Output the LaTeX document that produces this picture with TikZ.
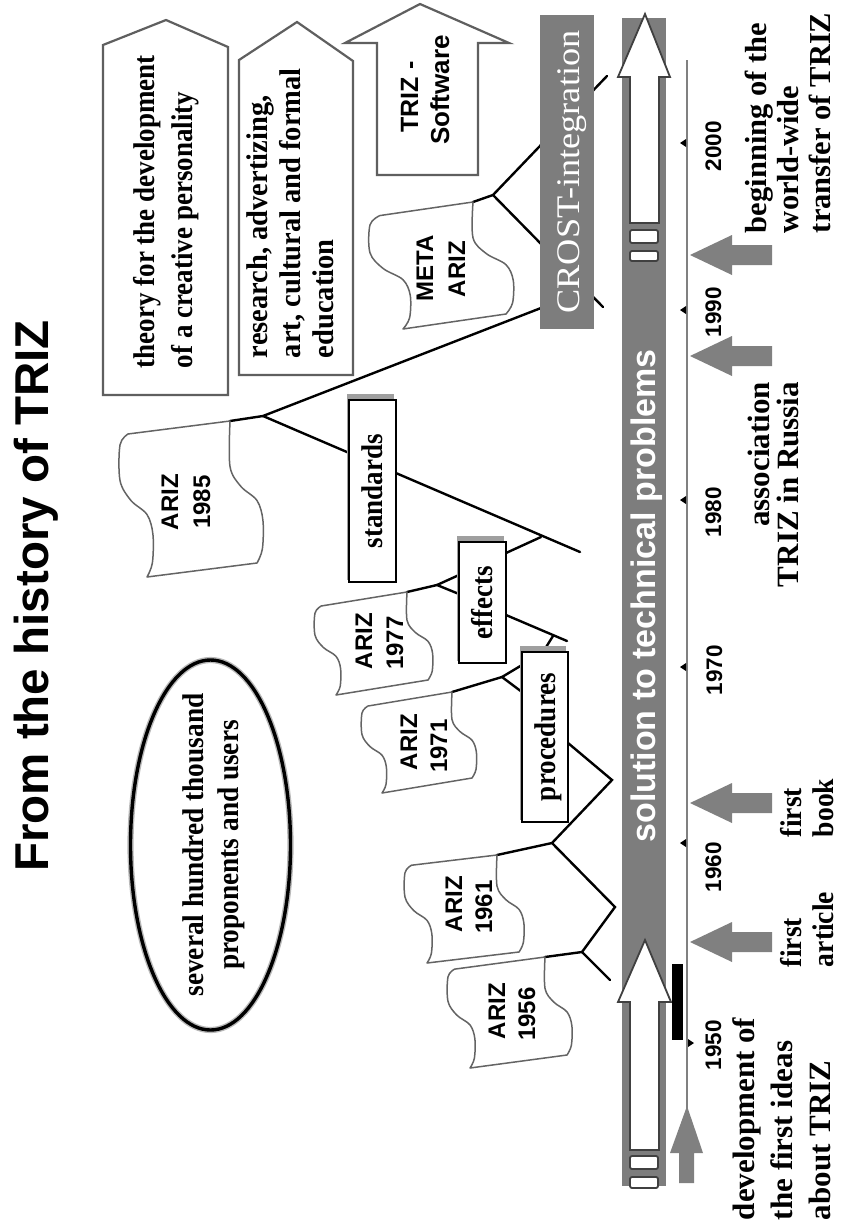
\documentclass[tikz,border=0pt]{standalone}
\usepackage{fontspec}
\setmainfont{Liberation Serif}
\newfontfamily\hvf{Liberation Sans}
\usepackage{graphicx}
\usetikzlibrary{calc}
\definecolor{bargray}{RGB}{125,125,125}
\definecolor{arrgray}{RGB}{128,128,128}
\definecolor{flaggray}{RGB}{100,100,100}
\definecolor{pentgray}{RGB}{95,95,95}
\newcommand\sq[2]{\scalebox{#1}[1]{#2}}
\newcommand\TB[1]{\fontsize{#1}{#1}\selectfont\bfseries}
\newcommand\TBL{\fontsize{30}{35}\selectfont\bfseries}
\newcommand\TR[1]{\fontsize{#1}{#1}\selectfont}
\newcommand\HB[1]{\hvf\fontsize{#1}{#1}\selectfont\bfseries}
\tikzset{
  tx/.style={rotate=90, inner sep=0pt, outer sep=0pt},
  tree/.style={line width=2.4pt, line cap=round, black},
  flagline/.style={draw=flaggray, line width=1.5pt, fill=white, line join=round},
  penta/.style={draw=pentgray, line width=2.2pt, fill=white, line join=miter},
  warrow/.style={draw=black!75, line width=1.8pt, fill=white, line join=miter},
  boxn/.style={tx, draw=black, line width=1.2pt, fill=white, text height=20pt, text depth=0pt, font=\TB{30}},
  shad/.style={fill=gray!75},
  evarr/.style={fill=arrgray},
  tick/.style={fill=black}
}
% flag: #1 TLx, #2 TLy, #3 width to right edge, #4 slant of top, #5 height, #6 wave shift
\newcommand\triFlag[6]{%
 \begin{scope}[shift={(#1,#2)}, x={(#6pt,0pt)}, y={(0pt,-#5pt)}]
  \pgfmathsetmacro\fu{#3/#6}%
  \pgfmathsetmacro\fv{#4/#5}%
  \pgfmathsetmacro\fs{0.3*\fv/\fu}%
  \draw[flagline] (0.3,\fs) -- (\fu,\fv)
   -- plot[smooth, tension=0.55] coordinates {(\fu,\fv) ({\fu},{\fv+0.32}) ({\fu+0.4},{\fv+0.46}) ({\fu+1.0},{\fv+0.56}) ({\fu+1.22},{\fv+0.70}) ({\fu+1.2},{\fv+0.9}) ({\fu+1},{\fv+1})}
   -- (1,1)
   -- plot[smooth, tension=0.55] coordinates {(1,1) (1.2,0.9) (1.22,0.70) (1.0,0.56) (0.4,0.46) (0,0.32) (0,0.07) (0.3,\fs)}
   -- cycle;
 \end{scope}}
\newcommand\evarrow[1]{\fill[evarr] (690,#1) -- ++(42,-20) -- ++(0,10) -- ++(40,0) -- ++(0,20) -- ++(-40,0) -- ++(0,10) -- cycle;}
\begin{document}
\begin{tikzpicture}[x=1pt,y=-1pt]
\useasboundingbox (0,0) rectangle (841,1229);
\fill[white] (0,0) rectangle (841,1229);

% title
\node[tx, anchor=base, font=\HB{47.5}] (title) at (48,596) {From the history of TRIZ};

% pentagon boxes
\draw[penta] (103,395) -- (228,395) -- (228,47) -- (166,20) -- (103,45) -- cycle;
\node[tx, anchor=base west, font=\TB{30}] (pa1) at (154,368) {\sq{0.9}{theory for the development}};
\node[tx, anchor=base west, font=\TB{30}] (pa2) at (192,368) {\sq{0.9}{of a creative personality}};
\draw[penta] (239,375) -- (353,375) -- (353,61) -- (297,22) -- (239,60) -- cycle;
\node[tx, anchor=base west, font=\TB{30}] (pb1) at (267,358) {\sq{0.95}{research, advertizing,}};
\node[tx, anchor=base west, font=\TB{30}] (pb2) at (300,358) {\sq{0.95}{art, cultural and formal}};
\node[tx, anchor=base west, font=\TB{30}] (pb3) at (333,358) {\sq{0.95}{education}};
\draw[penta] (377,175) -- (478,175) -- (478,43) -- (509,43) -- (420,4) -- (345,43) -- (377,43) -- cycle;
\node[tx, anchor=base, font=\HB{25}] (sw1) at (418,97) {TRIZ -};
\node[tx, anchor=base, font=\HB{26}] (sw2) at (449,90) {Software};

% ellipse
\draw[draw=gray!55, double=black, double distance=3.4pt, line width=1.4pt] (210.5,845) ellipse [x radius=80pt, y radius=185pt];
\node[tx, align=center, font=\TBL] (users) at (214,845) {\sq{0.91}{several hundred thousand}\\ \sq{0.91}{proponents and users}};

% tree coordinates
\coordinate (Jm) at (493,195);
\coordinate (Jm1) at (607,76);
\coordinate (Jm2) at (603,307);
\coordinate (cA) at (541,308);
\coordinate (J85) at (263,416);
\coordinate (tEnd) at (580,552);
\coordinate (Je) at (541,537);
\coordinate (eTop) at (506,553);
\coordinate (J77) at (437,585);
\coordinate (e77a) at (459,575);
\coordinate (e77b) at (459,594);
\coordinate (eR) at (506,615);
\coordinate (pEnd) at (567,641);
\coordinate (Jp) at (553,636);
\coordinate (pTop) at (543,652);
\coordinate (J71) at (502,677);
\coordinate (p71a) at (522,665);
\coordinate (p71b) at (522,692);
\coordinate (pR) at (568,743);
\coordinate (V1) at (612,780);
\coordinate (J61) at (552,843);
\coordinate (V2) at (615,907);
\coordinate (J56) at (582,952);
\coordinate (e56) at (610,980);
\coordinate (r85) at (230,421);
\coordinate (rM) at (473,202);
\coordinate (r77) at (407,592);
\coordinate (r71) at (452,692);
\coordinate (r61) at (497,855);
\coordinate (r56) at (545,957);

\draw[tree] (Jm1) -- (Jm) -- (Jm2);
\draw[tree] (Jm) -- (rM);
\draw[tree] (cA) -- (J85) -- (r85);
\draw[tree] (J85) -- (tEnd);
\draw[tree] (Je) -- (eTop);
\draw[tree] (e77a) -- (J77) -- (e77b);
\draw[tree] (J77) -- (r77);
\draw[tree] (eR) -- (pEnd);
\draw[tree] (Jp) -- (pTop);
\draw[tree] (p71a) -- (J71) -- (p71b);
\draw[tree] (J71) -- (r71);
\draw[tree] (pR) -- (V1) -- (J61) -- (V2) -- (J56) -- (e56);
\draw[tree] (J61) -- (r61);
\draw[tree] (J56) -- (r56);

% flags
\triFlag{120}{435}{110}{-14}{142}{27}
\triFlag{370}{217}{103}{-15}{112}{33}
\triFlag{315}{607}{92}{-15}{88}{21}
\triFlag{362}{707}{90}{-15}{86}{20}
\triFlag{405}{866}{92}{-11}{97}{22}
\triFlag{448}{970}{97}{-13}{98}{22}
\node[tx, anchor=base, font=\HB{24}] (a85a) at (178,502) {ARIZ};
\node[tx, anchor=base, font=\HB{24}] (a85b) at (210,502) {1985};
\node[tx, anchor=base, font=\HB{24}] (ama) at (433,268) {META};
\node[tx, anchor=base, font=\HB{24}] (amb) at (465,269) {ARIZ};
\node[tx, anchor=base, font=\HB{24}] (a77a) at (372,641) {ARIZ};
\node[tx, anchor=base, font=\HB{24}] (a77b) at (403,643) {1977};
\node[tx, anchor=base, font=\HB{24}] (a71a) at (417,742) {ARIZ};
\node[tx, anchor=base, font=\HB{24}] (a71b) at (447,746) {1971};
\node[tx, anchor=base, font=\HB{24}] (a61a) at (462,904) {ARIZ};
\node[tx, anchor=base, font=\HB{24}] (a61b) at (492,907) {1961};
\node[tx, anchor=base, font=\HB{24}] (a56a) at (505,1011) {ARIZ};
\node[tx, anchor=base, font=\HB{24}] (a56b) at (535,1014) {1956};

% boxes with shadow
\fill[shad] (347,394) rectangle (394,580);
\node[boxn, minimum width=182pt, minimum height=47pt] (std) at (372.5,491) {\sq{0.9}{standards}};
\fill[shad] (457,536) rectangle (504,661);
\node[boxn, minimum width=121pt, minimum height=47pt] (eff) at (482.5,602.5) {\sq{0.9}{effects}};
\fill[shad] (520,646) rectangle (566,820);
\node[boxn, minimum width=170pt, minimum height=46pt] (proc) at (545,737) {\sq{0.9}{procedures}};

% CROST bar
\node[tx, fill=bargray, minimum width=314pt, minimum height=54pt, text height=24pt, text depth=0pt, text=white, font=\TR{33}] (crost) at (567,172) {\sq{1.1}{CROST-integration}};

% main bar
\fill[bargray] (622,18) rectangle (666,1186);
\draw[warrow] (645,14) -- (670,77) -- (659,77) -- (659,223) -- (630,223) -- (630,77) -- (618,77) -- cycle;
\draw[warrow, rounded corners=2pt] (630,230) rectangle (658,243);
\draw[warrow, rounded corners=2pt] (630,251) rectangle (658,261);
\draw[warrow] (645,940) -- (671,1002) -- (659,1002) -- (659,1150) -- (630,1150) -- (630,1002) -- (618,1002) -- cycle;
\draw[warrow, rounded corners=2pt] (630,1156) rectangle (658,1169);
\draw[warrow, rounded corners=2pt] (630,1177) rectangle (658,1188);
\node[tx, anchor=base, text=white, font=\HB{34}] (sol) at (655,596) {solution to technical problems};

% timeline
\draw[arrgray, line width=2pt] (687,60) -- (687,1110);
\fill[arrgray] (687,1106) -- (703,1153) -- (694,1153) -- (694,1183) -- (679,1183) -- (679,1153) -- (670,1153) -- cycle;
\fill[black] (672,964) rectangle (683,1040);
\foreach \yy in {143,310,500,667,843} {\fill[tick] (680,\yy) -- (686,\yy-4) -- (686,\yy+4) -- cycle;}
\fill[tick] (694,1043) -- (688,1039) -- (688,1047) -- cycle;
\node[tx, anchor=base, font=\HB{22.5}] (y50) at (721,1045) {1950};
\node[tx, anchor=base, font=\HB{22.5}] (y60) at (721,867) {1960};
\node[tx, anchor=base, font=\HB{22.5}] (y70) at (722,670) {1970};
\node[tx, anchor=base, font=\HB{22.5}] (y80) at (721,512) {1980};
\node[tx, anchor=base, font=\HB{22.5}] (y90) at (721,312) {1990};
\node[tx, anchor=base, font=\HB{22.5}] (y00) at (721,146) {2000};

% event arrows
\evarrow{942}
\evarrow{803}
\evarrow{356}
\evarrow{255}

% event labels
\node[tx, anchor=base west, font=\TB{30}] (ev1a) at (801,967) {\sq{0.92}{first}};
\node[tx, anchor=base west, font=\TB{30}] (ev1b) at (833,967) {\sq{0.92}{article}};
\node[tx, anchor=base west, font=\TB{30}] (ev2a) at (801,837) {\sq{0.92}{first}};
\node[tx, anchor=base west, font=\TB{30}] (ev2b) at (833,837) {\sq{0.92}{book}};
\node[tx, anchor=base east, font=\TB{31}] (ev3a) at (769,382) {association};
\node[tx, anchor=base east, font=\TB{31}] (ev3b) at (798,382) {TRIZ in Russia};
\node[tx, anchor=base west, font=\TB{30.5}] (ev4a) at (766,233) {beginning of the};
\node[tx, anchor=base west, font=\TB{30.5}] (ev4b) at (798,233) {world-wide};
\node[tx, anchor=base west, font=\TB{30.5}] (ev4c) at (830,233) {transfer of TRIZ};
\node[tx, anchor=base west, font=\TB{31}] (ev5a) at (754,1220) {development of};
\node[tx, anchor=base west, font=\TB{31}] (ev5b) at (792,1220) {the first ideas};
\node[tx, anchor=base west, font=\TB{31}] (ev5c) at (830,1220) {about TRIZ};
\end{tikzpicture}
\end{document}
